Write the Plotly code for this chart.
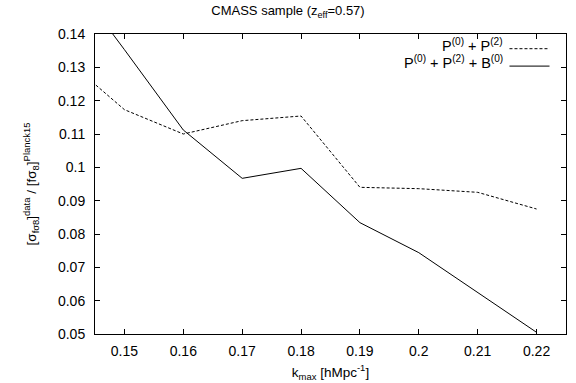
import plotly.graph_objects as go

k = [0.14, 0.15, 0.16, 0.17, 0.18, 0.19, 0.20, 0.21, 0.22]
p0p2 = [0.1325, 0.1173, 0.1100, 0.1140, 0.1154, 0.0940, 0.0936, 0.0925, 0.0875]
p0p2b0 = [0.1590, 0.1353, 0.1112, 0.0967, 0.0997, 0.0834, 0.0744, 0.0624, 0.0505]
xticks = [0.15, 0.16, 0.17, 0.18, 0.19, 0.20, 0.21, 0.22]
xticklabels = ["0.15", "0.16", "0.17", "0.18", "0.19", "0.2", "0.21", "0.22"]
yticks = [0.05, 0.06, 0.07, 0.08, 0.09, 0.10, 0.11, 0.12, 0.13, 0.14]
yticklabels = ["0.05", "0.06", "0.07", "0.08", "0.09", "0.1", "0.11", "0.12", "0.13", "0.14"]
names = ["P<sup>(0)</sup> + P<sup>(2)</sup>", "P<sup>(0)</sup> + P<sup>(2)</sup> + B<sup>(0)</sup>"]
dashes = ["3px,2px", "solid"]

FONT = "Liberation Sans, Arial, Helvetica, sans-serif"

fig = go.Figure()
for ys, nm, ds in zip([p0p2, p0p2b0], names, dashes):
    fig.add_trace(go.Scatter(x=k, y=ys, mode="lines", name=nm,
                             line=dict(color="black", width=1, dash=ds),
                             showlegend=False))

# gnuplot-style legend (text right-aligned, sample line to the right)
leg_y = [0.963, 0.905]
for nm, ds, yy in zip(names, dashes, leg_y):
    fig.add_annotation(xref="paper", yref="paper", x=0.871, y=yy, text=nm,
                       showarrow=False, xanchor="right", yanchor="middle",
                       font=dict(size=14.5, color="black", family=FONT))
    fig.add_shape(type="line", xref="paper", yref="paper",
                  x0=0.880, x1=0.965, y0=yy - 0.012, y1=yy - 0.012,
                  line=dict(color="black", width=1, dash=ds))

fig.update_layout(
    width=576, height=383,
    margin=dict(l=95, r=10, t=34, b=49),
    paper_bgcolor="white", plot_bgcolor="white",
    font=dict(family=FONT, size=13, color="black"),
    title=dict(text="CMASS sample (z<sub>eff</sub>=0.57)", x=0.5, xanchor="center",
               y=0.972, yanchor="middle", font=dict(size=13, color="black", family=FONT)),
)
axis_common = dict(showline=True, linecolor="black", linewidth=1, mirror="ticks",
                   ticks="inside", ticklen=5, tickcolor="black", showgrid=False,
                   zeroline=False, automargin=False,
                   tickfont=dict(size=14, color="black", family=FONT))
fig.update_xaxes(range=[0.145, 0.225], tickvals=xticks, ticktext=xticklabels,
                 ticklabelstandoff=4,
                 title=dict(text="k<sub>max</sub> [hMpc<sup>-1</sup>]", standoff=9,
                            font=dict(size=13.5, family=FONT)), **axis_common)
fig.update_yaxes(range=[0.05, 0.14], tickvals=yticks, ticktext=yticklabels,
                 ticklabelstandoff=6,
                 title=dict(text="[σ<sub>fσ8</sub>]<sup>data</sup> / [fσ<sub>8</sub>]<sup>Planck15</sup>",
                            standoff=18, font=dict(size=13.5, family=FONT)), **axis_common)

fig.write_html("out.html")
